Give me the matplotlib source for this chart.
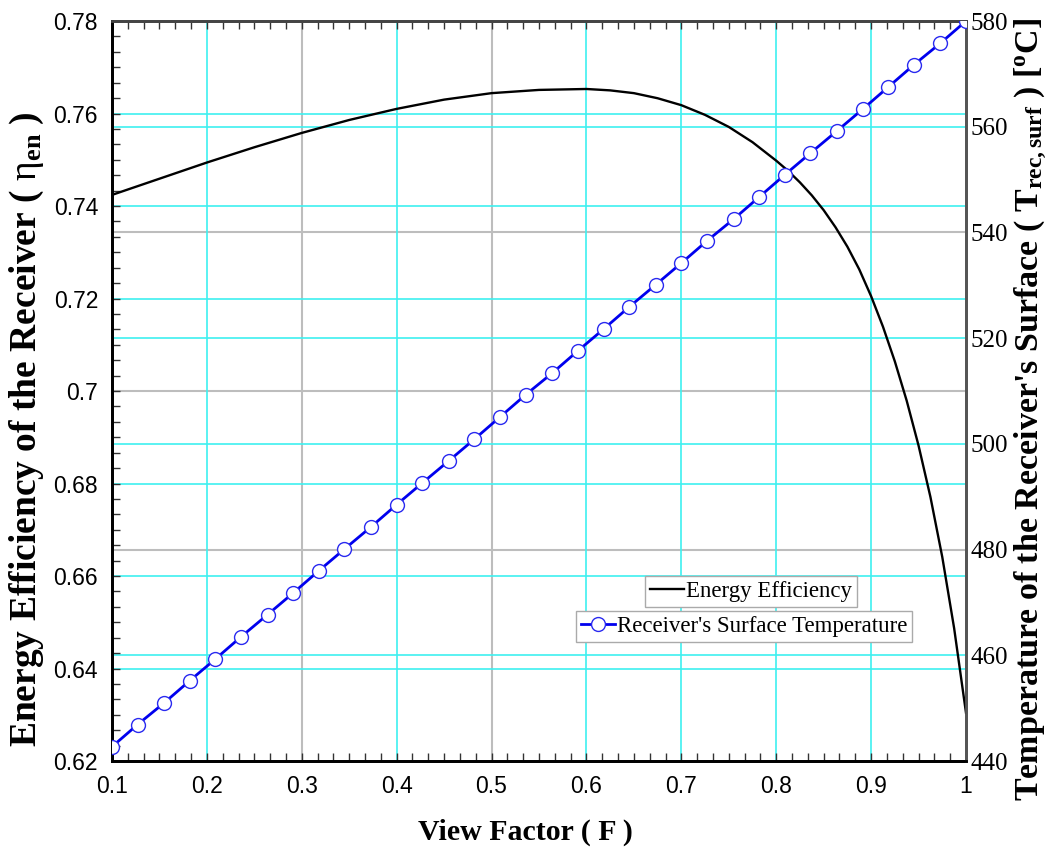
import matplotlib
matplotlib.use("Agg")
import matplotlib.pyplot as plt
from matplotlib.lines import Line2D
from matplotlib.transforms import blended_transform_factory
from matplotlib.ticker import MultipleLocator

# ---------------- data ----------------
F_eff = [0.10, 0.15, 0.20, 0.25, 0.30, 0.35, 0.40, 0.45, 0.50, 0.55, 0.60,
         0.625, 0.65, 0.675, 0.70, 0.725, 0.75, 0.775, 0.80, 0.8125, 0.825,
         0.8375, 0.85, 0.8625, 0.875, 0.8875, 0.90, 0.9125, 0.925, 0.9375,
         0.95, 0.9625, 0.975, 0.9875, 1.00]
eta_en = [0.7424, 0.7459, 0.7494, 0.7527, 0.7558, 0.7586, 0.7610, 0.7630,
          0.7644, 0.7651, 0.7653, 0.7650, 0.7644, 0.7633, 0.7618, 0.7597,
          0.7571, 0.7538, 0.7498, 0.7476, 0.7451, 0.7423, 0.7391, 0.7354,
          0.7312, 0.7263, 0.7205, 0.7139, 0.7064, 0.6979, 0.6882, 0.6771,
          0.6641, 0.6487, 0.6304]

F_temp = [0.100, 0.127, 0.155, 0.182, 0.209, 0.236, 0.264, 0.291, 0.318,
          0.345, 0.373, 0.400, 0.427, 0.455, 0.482, 0.509, 0.536, 0.564,
          0.591, 0.618, 0.645, 0.673, 0.700, 0.727, 0.755, 0.782, 0.809,
          0.836, 0.864, 0.891, 0.918, 0.945, 0.973, 1.000]
T_surf = [442.7, 446.9, 451.0, 455.2, 459.3, 463.5, 467.7, 471.8, 476.0,
          480.1, 484.3, 488.5, 492.6, 496.8, 500.9, 505.1, 509.3, 513.4,
          517.6, 521.7, 525.9, 530.1, 534.2, 538.4, 542.5, 546.7, 550.9,
          555.0, 559.2, 563.3, 567.5, 571.7, 575.8, 580.0]

x_ticks = [0.1, 0.2, 0.3, 0.4, 0.5, 0.6, 0.7, 0.8, 0.9, 1.0]
x_ticklabels = ["0.1", "0.2", "0.3", "0.4", "0.5", "0.6", "0.7", "0.8", "0.9", "1"]
y_ticks = [0.62, 0.64, 0.66, 0.68, 0.70, 0.72, 0.74, 0.76, 0.78]
y_ticklabels = ["0.62", "0.64", "0.66", "0.68", "0.7", "0.72", "0.74", "0.76", "0.78"]
t_ticks = [440, 460, 480, 500, 520, 540, 560, 580]
t_ticklabels = ["440", "460", "480", "500", "520", "540", "560", "580"]

grid_x_cyan = [0.2, 0.4, 0.6, 0.7, 0.8, 0.9]
grid_x_gray = [0.3, 0.5]
grid_y_cyan = [0.64, 0.66, 0.68, 0.72, 0.74, 0.76]
grid_y_gray = [0.70]
grid_t_cyan = [460, 500, 520, 560]
grid_t_gray = [480, 540]

# ---------------- style ----------------
plt.rcParams["mathtext.fontset"] = "custom"
plt.rcParams["mathtext.rm"] = "Liberation Serif"
plt.rcParams["mathtext.bf"] = "Liberation Serif:bold"
plt.rcParams["mathtext.it"] = "Liberation Serif:italic"

CYAN = "#3ef0f0"
GRAY = "#bdbdbd"
SANS = "Liberation Sans"
SERIF = "Liberation Serif"

fig = plt.figure(figsize=(10.54, 8.55), dpi=100)
L, R, B, T = 112 / 1054, 966 / 1054, 1 - 761 / 855, 1 - 21 / 855
ax = fig.add_axes([L, B, R - L, T - B])
ax2 = ax.twinx()

ax.set_xlim(0.1, 1.0)
ax.set_ylim(0.62, 0.78)
ax2.set_ylim(440, 580)

# grid lines (all drawn on the primary axes, underneath the curves)
for xv in grid_x_cyan:
    ax.axvline(xv, color=CYAN, lw=1.2, zorder=0.5)
for xv in grid_x_gray:
    ax.axvline(xv, color=GRAY, lw=1.5, zorder=0.4)
for yv in grid_y_cyan:
    ax.axhline(yv, color=CYAN, lw=1.2, zorder=0.5)
for yv in grid_y_gray:
    ax.axhline(yv, color=GRAY, lw=1.5, zorder=0.4)
btrans = blended_transform_factory(ax.transAxes, ax2.transData)
for tv in grid_t_cyan:
    ax.add_line(Line2D([0, 1], [tv, tv], transform=btrans, color=CYAN, lw=1.2, zorder=0.5))
for tv in grid_t_gray:
    ax.add_line(Line2D([0, 1], [tv, tv], transform=btrans, color=GRAY, lw=1.5, zorder=0.4))

# curves
l1, = ax.plot(F_eff, eta_en, color="black", lw=1.7, label="Energy Efficiency", zorder=3)
l2, = ax2.plot(F_temp, T_surf, color="#0000ee", lw=2.0, marker="o", markersize=10,
               markerfacecolor="white", markeredgecolor="#2a2af0", markeredgewidth=1.0,
               label="Receiver's Surface Temperature", zorder=3)

# ticks
ax.set_xticks(x_ticks)
ax.set_xticklabels(x_ticklabels, fontfamily=SANS, fontsize=16.5)
ax.set_yticks(y_ticks)
ax.set_yticklabels(y_ticklabels, fontfamily=SANS, fontsize=16.5)
ax.xaxis.set_minor_locator(MultipleLocator(0.1 / 6))
ax.yaxis.set_minor_locator(MultipleLocator(0.02 / 6))
ax.tick_params(axis="both", which="both", direction="in", top=True, right=False,
               width=1.0, color="#333333")
ax.tick_params(axis="both", which="major", length=6, pad=10)
ax.tick_params(axis="both", which="minor", length=6)

ax2.set_yticks(t_ticks)
ax2.set_yticklabels(t_ticklabels, fontfamily=SERIF, fontsize=18)
ax2.tick_params(axis="y", which="both", length=0, pad=3)

# spines
for a in (ax, ax2):
    a.spines["left"].set_color("black")
    a.spines["bottom"].set_color("black")
    a.spines["top"].set_color("#444444")
    a.spines["right"].set_color("#555555")
    for s in a.spines.values():
        s.set_linewidth(2.0)

# axis labels
fig.text(525 / 1054, 1 - 832 / 855, "View Factor ( F )", ha="center", va="center",
         fontfamily=SERIF, fontweight="bold", fontsize=21.5)
fig.text(27 / 1054, 1 - 429 / 855,
         r"Energy Efficiency of the Receiver ( $\mathrm{\eta}_{\mathbf{en}}$ )",
         rotation=90, ha="center", va="center",
         fontfamily=SERIF, fontweight="bold", fontsize=27)
fig.text(1031 / 1054, 1 - 410 / 855,
         r"Temperature of the Receiver's Surface ( $\mathbf{T}_{\mathbf{rec,surf}}$ ) [$^{\mathbf{o}}$C]",
         rotation=90, ha="center", va="center",
         fontfamily=SERIF, fontweight="bold", fontsize=24.5)

# legends
leg_kw = dict(frameon=True, fancybox=False, shadow=False, framealpha=1.0,
              edgecolor="#aaaaaa", borderpad=0.22, handletextpad=0.05,
              borderaxespad=0.0, handlelength=1.5,
              prop={"family": SERIF, "size": 16.5}, bbox_transform=fig.transFigure)
leg1 = ax2.legend(handles=[l1], loc="upper left",
                  bbox_to_anchor=(645 / 1054, 1 - 576 / 855), **leg_kw)
leg1.get_frame().set_linewidth(1.0)
ax2.add_artist(leg1)
leg2 = ax2.legend(handles=[l2], loc="upper left",
                  bbox_to_anchor=(576 / 1054, 1 - 611 / 855), **leg_kw)
leg2.get_frame().set_linewidth(1.0)

fig.savefig("out.png", dpi=100)
